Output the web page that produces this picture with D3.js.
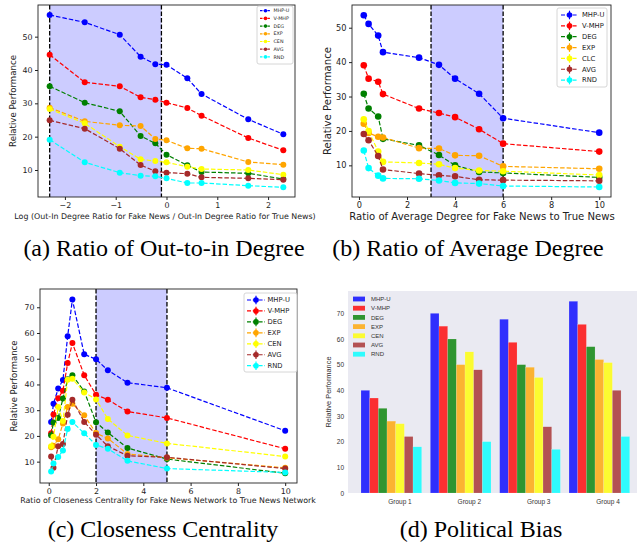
<!DOCTYPE html>
<html lang="en">
<head>
<meta charset="UTF-8">
<title>Relative Performance of mitigation methods</title>
<script src="https://d3js.org/d3.v7.min.js"></script>
<style>
  body { margin: 0; padding: 0; background: #ffffff; }
  svg { display: block; font-family: "DejaVu Sans", sans-serif; }
  .caption { font-family: "Liberation Serif", "Times New Roman", serif; font-size: 24px; fill: #000; }
</style>
</head>
<body>
<div id="chart"></div>
<script>
// ---- data ----
const methods = ["MHP-U", "V-MHP", "DEG", "EXP", "CEN", "AVG", "RND"];
const methodsB = ["MHP-U", "V-MHP", "DEG", "EXP", "CLC", "AVG", "RND"];
const methodColors = ["blue", "red", "green", "orange", "yellow", "brown", "cyan"];

// (a) log ratio of out-in degree
const xOutIn = [-2.3, -1.61, -0.92, -0.51, -0.22, 0, 0.41, 0.69, 1.61, 2.3];
const outInValues = [
  [56.5, 54.3, 50.6, 44.0, 41.7, 41.6, 37.5, 32.8, 25.2, 20.7],
  [44.6, 36.3, 35.1, 31.8, 31.1, 30.2, 28.6, 26.3, 19.6, 15.9],
  [35.1, 30.2, 27.6, 20.2, 18.0, 14.6, 11.4, 9.4, 9.0, 7.3],
  [28.7, 24.6, 23.4, 23.2, 19.3, 18.9, 16.5, 16.4, 12.4, 11.6],
  [28.3, 24.0, 17.0, 13.2, 12.7, 12.3, 11.0, 10.3, 10.0, 8.6],
  [24.9, 22.4, 16.4, 11.5, 9.6, 9.2, 8.9, 7.8, 7.5, 7.1],
  [19.1, 12.3, 9.2, 8.3, 8.1, 7.5, 6.1, 6.1, 5.3, 4.8]
];
const outInShade = [-2.3, -0.1];

// (b) ratio of average degree
const xAvgDeg = [0.2, 0.4, 0.8, 1, 2.5, 3.33, 4, 5, 6, 10];
const avgDegValues = [
  [53.6, 51.1, 47.7, 42.9, 41.3, 39.2, 35.2, 30.8, 23.7, 19.5],
  [39.1, 35.2, 34.3, 30.7, 26.5, 25.2, 24.0, 20.5, 16.3, 14.0],
  [30.8, 26.5, 24.2, 17.7, 15.8, 13.0, 10.0, 8.1, 7.8, 6.5],
  [22.1, 19.4, 18.3, 18.1, 15.0, 14.9, 12.9, 12.8, 9.7, 9.0],
  [23.4, 20.0, 14.0, 11.0, 10.7, 10.3, 9.2, 8.5, 8.3, 7.2],
  [19.1, 17.3, 12.7, 8.8, 7.6, 7.1, 6.8, 5.8, 5.7, 5.5],
  [14.3, 9.2, 7.0, 6.2, 6.1, 5.6, 4.9, 4.7, 4.0, 3.7]
];
const avgDegShade = [3, 6];

// (c) ratio of closeness centrality
const xCloseness = [0.1, 0.2, 0.4, 0.6, 0.8, 1, 1.5, 2, 2.5, 3.33, 5, 10];
const closenessValues = [
  [25.4, 32.5, 38.4, 41.7, 58.7, 73.0, 51.7, 49.8, 45.5, 40.7, 38.7, 22.0],
  [21.0, 28.3, 34.6, 37.6, 48.3, 56.1, 43.6, 36.0, 34.1, 29.5, 27.0, 15.0],
  [20.3, 25.2, 27.0, 34.5, 42.0, 43.6, 37.3, 25.3, 21.3, 15.3, 11.0, 5.5],
  [15.6, 16.2, 18.7, 24.8, 31.2, 32.5, 28.0, 21.1, 19.0, 13.0, 11.5, 7.6],
  [16.0, 19.7, 31.2, 25.8, 41.8, 42.2, 36.9, 34.2, 26.6, 20.2, 17.1, 12.0],
  [12.0, 7.6, 16.0, 16.9, 28.2, 34.1, 25.4, 20.5, 16.0, 12.3, 11.7, 7.3],
  [6.2, 9.3, 11.8, 14.3, 22.7, 25.4, 21.0, 16.5, 15.0, 10.3, 7.3, 5.8]
];
const closenessShade = [2, 5];

// (d) political bias, one row per group
const biasGroups = ["Group 1", "Group 2", "Group 3", "Group 4"];
const biasValues = [
  [40, 37, 33, 28, 27, 22, 18],
  [70, 65, 60, 50, 55, 48, 20],
  [67.7, 58.7, 50, 49, 45, 25.8, 17],
  [74.7, 65.7, 57, 52, 50.8, 40, 22]
];

const W = 637, H = 544;
const svg = d3.select("#chart").append("svg")
  .attr("width", W)
  .attr("height", H);

function drawLinePanel(p) {
  const g = svg.append("g");
  const x = d3.scaleLinear().domain(p.xDomain).range([p.left, p.right]);
  const y = d3.scaleLinear().domain(p.yDomain).range([p.bottom, p.top]);

  // shaded range + dashed boundaries
  g.append("rect")
    .attr("x", x(p.shade[0]))
    .attr("y", p.top)
    .attr("width", x(p.shade[1]) - x(p.shade[0]))
    .attr("height", p.bottom - p.top)
    .attr("fill", "blue")
    .attr("fill-opacity", 0.2);
  g.selectAll(".vline")
    .data(p.shade)
    .enter()
    .append("line")
    .attr("x1", d => x(d)).attr("x2", d => x(d))
    .attr("y1", p.top).attr("y2", p.bottom)
    .attr("stroke", "#000")
    .attr("stroke-width", 1.3)
    .attr("stroke-dasharray", "4.5,2");

  const line = d3.line().x(d => x(d[0])).y(d => y(d[1]));
  p.values.forEach((vals, i) => {
    const pts = p.xs.map((xv, j) => [xv, vals[j]]);
    g.append("path")
      .datum(pts)
      .attr("d", line)
      .attr("fill", "none")
      .attr("stroke", methodColors[i])
      .attr("stroke-width", 1.2)
      .attr("stroke-dasharray", "4.5,2");
    g.selectAll(null)
      .data(pts)
      .enter()
      .append("circle")
      .attr("cx", d => x(d[0]))
      .attr("cy", d => y(d[1]))
      .attr("r", p.r)
      .attr("fill", methodColors[i]);
  });

  // axes
  const xAxis = g.append("g")
    .attr("transform", `translate(0,${p.bottom})`)
    .call(d3.axisBottom(x).tickValues(p.xTicks).tickSize(3).tickPadding(2.5).tickFormat(d3.format("d")));
  const yAxis = g.append("g")
    .attr("transform", `translate(${p.left},0)`)
    .call(d3.axisLeft(y).tickValues(p.yTicks).tickSize(3).tickPadding(2.5));
  [xAxis, yAxis].forEach(a => {
    a.select(".domain").remove();
    a.selectAll("text").attr("font-size", p.tickSize).attr("fill", "#222").attr("font-family", "DejaVu Sans");
    a.selectAll("line").attr("stroke", "#222");
  });

  g.append("rect")
    .attr("x", p.left).attr("y", p.top)
    .attr("width", p.right - p.left).attr("height", p.bottom - p.top)
    .attr("fill", "none")
    .attr("stroke", "#222")
    .attr("stroke-width", 0.9);

  g.append("text")
    .attr("x", p.xLabelX)
    .attr("y", p.xLabelY)
    .attr("text-anchor", "middle")
    .attr("font-size", p.xLabelSize)
    .attr("fill", "#222")
    .text(p.xLabel);
  g.append("text")
    .attr("transform", `translate(${p.yLabelX},${(p.top + p.bottom) / 2}) rotate(-90)`)
    .attr("text-anchor", "middle")
    .attr("font-size", p.yLabelSize)
    .attr("fill", "#222")
    .text("Relative Performance");

  // legend
  const L = p.legend;
  g.append("rect")
    .attr("x", L.x0).attr("y", L.y0)
    .attr("width", L.x1 - L.x0).attr("height", L.y1 - L.y0)
    .attr("rx", 2)
    .attr("fill", "#fff")
    .attr("fill-opacity", 0.8)
    .attr("stroke", "#ccc")
    .attr("stroke-width", 0.8);
  p.names.forEach((name, i) => {
    const ry = L.rowY + i * L.step;
    const mx = (L.lineX0 + L.lineX1) / 2;
    g.append("line")
      .attr("x1", L.lineX0).attr("x2", L.lineX1)
      .attr("y1", ry).attr("y2", ry)
      .attr("stroke", methodColors[i])
      .attr("stroke-width", 1.2)
      .attr("stroke-dasharray", L.dash);
    if (L.errbar) {
      g.append("line")
        .attr("x1", mx).attr("x2", mx)
        .attr("y1", ry - L.r - 1.5).attr("y2", ry + L.r + 1.5)
        .attr("stroke", methodColors[i])
        .attr("stroke-width", 1.2);
    }
    g.append("circle")
      .attr("cx", mx).attr("cy", ry).attr("r", L.r)
      .attr("fill", methodColors[i]);
    g.append("text")
      .attr("x", L.textX).attr("y", ry)
      .attr("dy", "0.35em")
      .attr("font-size", L.fontSize)
      .attr("fill", "#222")
      .text(name);
  });
}

// (a)
drawLinePanel({
  left: 38, right: 295, top: 5, bottom: 197,
  xDomain: [-2.53, 2.53], yDomain: [1.9, 59.5],
  xTicks: [-2, -1, 0, 1, 2], yTicks: [10, 20, 30, 40, 50],
  xs: xOutIn, values: outInValues, shade: outInShade, names: methods,
  r: 3, tickSize: 7.9,
  xLabel: "Log (Out-In Degree Ratio for Fake News / Out-In Degree Ratio for True News)",
  xLabelX: 165, xLabelY: 219, xLabelSize: 7.9,
  yLabelX: 16, yLabelSize: 8.6,
  legend: { x0: 257, x1: 293, y0: 6, y1: 64, rowY: 10.7, step: 7.7, lineX0: 260, lineX1: 271,
    textX: 273.5, fontSize: 4.8, r: 1.8, dash: "2.5,1.2", errbar: false }
});

// (b)
drawLinePanel({
  left: 352, right: 611, top: 5, bottom: 197,
  xDomain: [-0.29, 10.49], yDomain: [0.8, 56.6],
  xTicks: [0, 2, 4, 6, 8, 10], yTicks: [10, 20, 30, 40, 50],
  xs: xAvgDeg, values: avgDegValues, shade: avgDegShade, names: methodsB,
  r: 3.3, tickSize: 8.2,
  xLabel: "Ratio of Average Degree for Fake News to True News",
  xLabelX: 482, xLabelY: 220, xLabelSize: 10.1,
  yLabelX: 331, yLabelSize: 10.1,
  legend: { x0: 557, x1: 607, y0: 8, y1: 87, rowY: 15, step: 10.85, lineX0: 561, lineX1: 578,
    textX: 582, fontSize: 6.8, r: 2.8, dash: "4,1.8", errbar: true }
});

// (c)
drawLinePanel({
  left: 40, right: 297, top: 289, bottom: 483,
  xDomain: [-0.37, 10.5], yDomain: [1.7, 77.1],
  xTicks: [0, 2, 4, 6, 8, 10], yTicks: [10, 20, 30, 40, 50, 60, 70],
  xs: xCloseness, values: closenessValues, shade: closenessShade, names: methods,
  r: 3, tickSize: 7.9,
  xLabel: "Ratio of Closeness Centrality for Fake News Network to True News Network",
  xLabelX: 168, xLabelY: 503, xLabelSize: 7.9,
  yLabelX: 17, yLabelSize: 8.5,
  legend: { x0: 244, x1: 297, y0: 293, y1: 372, rowY: 300, step: 10.95, lineX0: 247, lineX1: 265,
    textX: 267.5, fontSize: 6.8, r: 2.8, dash: "4,1.8", errbar: true }
});

// (d) grouped bars, seaborn-like style
(function drawBars() {
  const left = 348, right = 637, top = 291, bottom = 493;
  const g = svg.append("g").attr("font-family", "Liberation Sans, Arial, sans-serif");
  const x0 = d3.scaleBand().domain(biasGroups).range([361, 629.7]).paddingInner(0.125).paddingOuter(0);
  const x1 = d3.scaleBand().domain(methods).range([0, x0.bandwidth()]);
  const y = d3.scaleLinear().domain([0, 78.7]).range([bottom, top]);

  g.append("rect")
    .attr("x", left).attr("y", top)
    .attr("width", right - left).attr("height", bottom - top)
    .attr("fill", "#eaeaf2");

  const groups = g.selectAll(".grp")
    .data(biasValues)
    .enter()
    .append("g")
    .attr("transform", (d, i) => `translate(${x0(biasGroups[i])},0)`);
  groups.selectAll("rect")
    .data(d => d.map((v, i) => ({ v, i })))
    .enter()
    .append("rect")
    .attr("x", d => x1(methods[d.i]))
    .attr("y", d => y(d.v))
    .attr("width", x1.bandwidth())
    .attr("height", d => bottom - y(d.v))
    .attr("fill", d => methodColors[d.i])
    .attr("fill-opacity", 0.8)
    .attr("stroke", "#fff")
    .attr("stroke-opacity", 0.35)
    .attr("stroke-width", 0.4);

  const yAxis = g.append("g")
    .attr("transform", `translate(${left},0)`)
    .call(d3.axisLeft(y).tickValues([0, 10, 20, 30, 40, 50, 60, 70]).tickSize(0).tickPadding(4));
  yAxis.select(".domain").remove();
  yAxis.selectAll("text").attr("font-size", 6.5).attr("fill", "#333").attr("font-family", "Liberation Sans, Arial, sans-serif");

  g.selectAll(".glabel")
    .data(biasGroups)
    .enter()
    .append("text")
    .attr("x", d => x0(d) + x1("CEN") + x1.bandwidth() / 2)
    .attr("y", bottom + 9)
    .attr("dy", "0.35em")
    .attr("text-anchor", "middle")
    .attr("font-size", 6.5)
    .attr("fill", "#333")
    .text(d => d);

  g.append("text")
    .attr("transform", `translate(331,${(top + bottom) / 2}) rotate(-90)`)
    .attr("text-anchor", "middle")
    .attr("font-size", 7.4)
    .attr("fill", "#333")
    .text("Relative Performance");

  methods.forEach((name, i) => {
    const ry = 299 + i * 9.2;
    g.append("rect")
      .attr("x", 353).attr("y", ry - 2.4)
      .attr("width", 12).attr("height", 4.8)
      .attr("fill", methodColors[i])
      .attr("fill-opacity", 0.8);
    g.append("text")
      .attr("x", 371).attr("y", ry)
      .attr("dy", "0.35em")
      .attr("font-size", 6)
      .attr("fill", "#333")
      .text(name);
  });
})();

// captions
const captions = [
  { text: "(a) Ratio of Out-to-in Degree", x: 164, y: 256 },
  { text: "(b) Ratio of Average Degree", x: 468, y: 256 },
  { text: "(c) Closeness Centrality", x: 163, y: 537 },
  { text: "(d) Political Bias", x: 481, y: 537 }
];
svg.selectAll(".caption")
  .data(captions)
  .enter()
  .append("text")
  .attr("class", "caption")
  .attr("x", d => d.x)
  .attr("y", d => d.y)
  .attr("text-anchor", "middle")
  .text(d => d.text);
</script>
</body>
</html>
